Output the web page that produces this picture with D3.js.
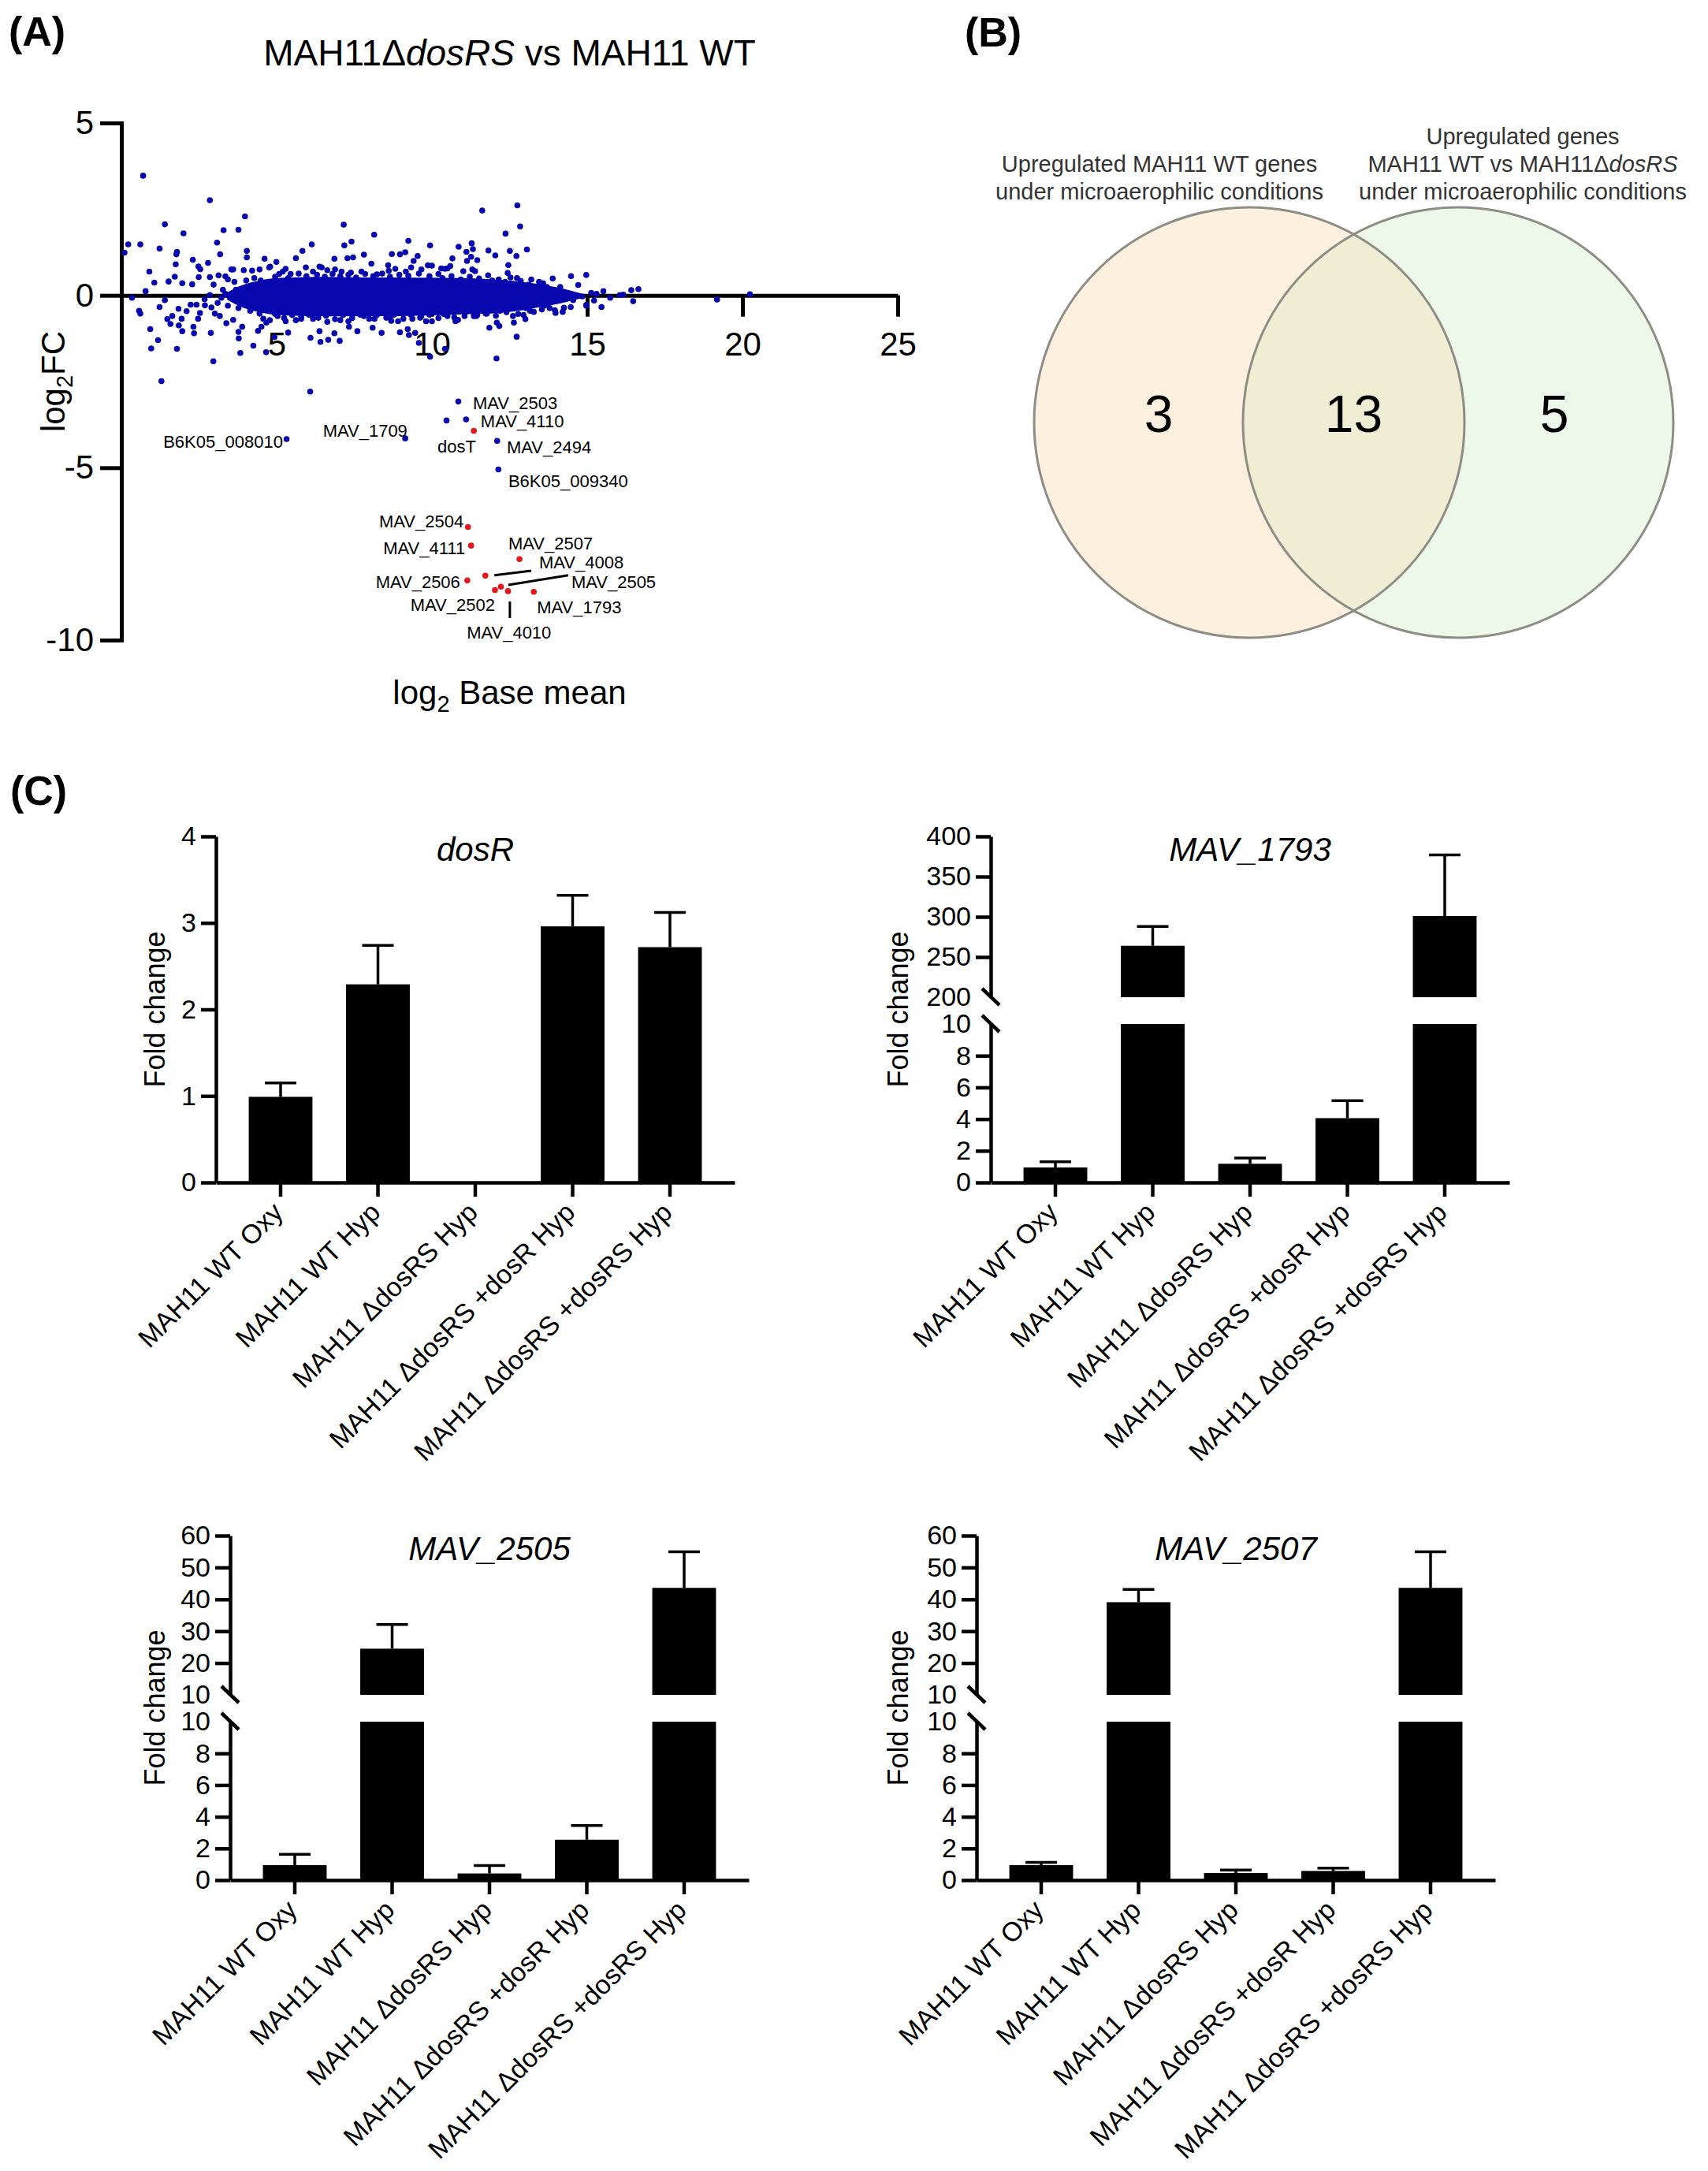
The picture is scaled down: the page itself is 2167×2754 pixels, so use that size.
<!DOCTYPE html>
<html>
<head>
<meta charset="utf-8">
<script src="https://cdn.jsdelivr.net/npm/d3@7"></script>
<style>
  body { margin: 0; background: #fff; }
  svg { display: block; font-family: "Liberation Sans", Arial, Helvetica, sans-serif; }
</style>
</head>
<body>
<svg id="fig" width="2167" height="2754"></svg>
<script>
// ---------- panel A: MA plot (log2 base mean, log2FC) ----------
const maPoints = [
  [0.70,3.47],[2.85,2.76],[3.98,2.29],[1.40,2.06],[2.0,1.80],[3.29,1.89],[3.77,1.90],[7.16,2.05],
  [8.14,1.76],[7.41,1.56],[7.18,1.45],[6.13,1.48],[5.83,1.29],[9.24,1.58],[9.94,1.45],[0.22,1.48],
  [0.61,1.48],[0.1,1.24],[1.23,1.36],[3.08,1.53],[3.18,1.19],[4.04,1.29],[4.04,1.10],[1.79,1.26],
  [1.77,1.19],[1.75,0.90],[2.30,1.03],[2.79,0.94],[0.90,0.69],[1.06,0.37],[1.52,0.40],[1.72,0.54],
  [1.96,0.35],[2.48,0.84],[2.54,0.76],[2.49,0.53],[2.28,0.32],[2.85,0.53],[3.13,0.58],[3.35,0.55],
  [4.61,1.06],[4.79,0.83],[4.99,0.97],[5.62,1.08],[6.86,1.06],[7.28,1.08],[7.46,1.10],[7.81,1.18],
  [8.05,0.92],[8.71,1.20],[8.97,1.19],[9.14,1.25],[9.54,1.14],[9.41,1.00],[9.87,0.87],[8.59,0.87],
  [4.45,0.75],[4.21,0.72],[6.45,0.81],
  [0.34,-0.07],[0.78,0.12],[0.57,-0.45],[0.61,-0.53],[0.93,-0.98],[1.18,-1.30],[0.96,-1.54],[1.29,-2.49],
  [1.79,-1.55],[1.23,-0.34],[1.40,-0.14],[1.48,-0.69],[1.64,-0.60],[1.58,-0.83],[1.85,-0.87],[1.96,-1.04],
  [1.94,-0.68],[1.84,-0.39],[2.10,-0.46],[2.23,-0.27],[2.32,-0.91],[2.34,-1.10],[2.47,-0.68],[2.53,-0.51],
  [2.42,-0.27],[2.69,-0.29],[2.90,-0.35],[2.88,-1.09],[2.96,-1.91],[3.01,-0.53],[3.17,-0.60],[3.38,-0.81],
  [3.60,-0.71],[3.77,-1.06],[3.78,-1.25],[3.83,-1.67],[3.89,-0.91],[4.25,-1.46],[4.40,-1.03],[4.66,-1.65],
  [4.51,-0.91],[4.67,-0.79],[4.93,-1.21],[5.37,-1.08],[6.09,-1.23],[6.08,-2.79],[6.38,-1.04],[6.41,-1.35],
  [6.66,-1.29],[7.03,-1.32],[6.86,-1.10],[7.33,-0.91],[7.60,-1.04],[8.09,-0.94],[8.38,-1.09],[8.69,-0.74],
  [8.97,-1.07],[9.22,-0.98],[9.26,-1.15],[9.46,-1.09],[9.58,-1.38],[9.94,-1.78],[9.81,-0.75],[10.42,-1.55],
  [3.54,0.75],[3.60,0.75],[3.94,0.73],[4.76,0.81],[5.29,0.77],[5.20,0.69],[5.45,0.62],[5.94,0.81],
  [6.17,0.69],[6.38,0.83],[6.63,0.73],[6.88,0.75],[7.09,0.69],[7.39,0.66],[7.73,0.69],[8.23,0.61],
  [8.61,0.71],[8.82,0.77],[9.16,0.69],[9.33,0.81],[9.66,0.75],[10.0,0.86],[10.3,0.78],
  [3.43,0.46],[3.64,0.39],[4.02,0.43],[4.28,0.50],[4.49,0.43],[3.69,0.16],[3.86,0.04],[4.11,0.12],
  [4.36,0.23],[3.60,-0.11],[3.43,-0.30],[3.77,-0.37],[3.94,-0.22],[4.15,-0.45],[4.28,-0.30],[4.45,-0.53],
  [4.57,-0.68],[3.22,-0.07],[3.35,0.04],[3.10,-0.22],[2.97,0.31],[3.27,0.16],[2.85,0.01],[2.68,-0.11],
  [4.78,-0.72],[5.03,-0.60],[5.29,-0.75],[5.62,-0.72],[5.79,-0.60],[6.17,-0.68],[6.63,-0.77],[7.05,-0.72],
  [7.31,-0.75],[7.81,-0.60],[8.15,-0.68],[8.65,-0.66],[8.91,-0.75],[9.37,-0.68],[9.66,-0.60],[10.0,-0.75],
  [4.95,0.54],[5.08,0.62],[5.37,0.50],[5.71,0.63],[5.96,0.56],[6.30,0.60],[6.55,0.54],[6.80,0.62],
  [7.05,0.56],[7.31,0.60],[7.56,0.52],[7.85,0.62],[8.11,0.56],[8.40,0.63],[8.65,0.54],[8.95,0.60],
  [9.24,0.57],[9.58,0.63],[9.92,0.56],[10.21,0.62],
  [4.95,-0.54],[5.24,-0.66],[5.50,-0.57],[5.79,-0.68],[6.04,-0.56],[6.34,-0.65],[6.59,-0.59],[6.88,-0.69],
  [7.14,-0.57],[7.43,-0.66],[7.69,-0.56],[7.98,-0.68],[8.23,-0.57],[8.53,-0.65],[8.78,-0.56],[9.08,-0.68],
  [9.33,-0.57],[9.62,-0.65],[9.92,-0.56],[10.21,-0.66],
  [12.75,2.61],[11.62,2.46],[12.84,2.00],[12.37,1.79],[13.06,1.33],[11.28,1.51],[11.32,1.34],[11.11,1.26],
  [10.86,1.41],[11.82,1.30],[12.04,1.16],[12.51,1.29],[12.72,1.14],[12.46,0.88],[12.44,0.65],[10.66,1.07],
  [11.26,1.12],[11.46,1.02],[11.13,1.00],[11.30,0.75],[10.50,0.78],[12.74,0.50],[13.89,0.49],[14.48,0.56],
  [14.97,0.59],[14.71,0.30],[16.65,0.18],[16.42,0.15],[16.16,0.02],[16.05,0.01],[15.74,-0.07],[15.52,0.12],
  [16.48,-0.17],[15.46,-0.34],[19.18,-0.12],[20.24,0.03],
  [11.85,-0.94],[12.09,-0.79],[12.17,-0.89],[12.64,-0.79],[12.73,-1.20],[12.08,-1.83],[12.95,-0.57],[13.01,-0.69],
  [13.28,-0.48],[10.76,-0.75],[11.05,-0.60],[11.46,-0.57],[13.98,-0.51],[14.25,-0.36],[14.47,-0.34],[14.97,-0.28],
  [10.42,0.77],[10.59,0.85],[11.01,0.70],[11.39,0.70],[11.94,0.43],[12.36,0.39],[13.12,0.31],[13.45,0.39],
  [13.7,0.24],[14.13,0.24],[10.5,-0.6],[10.84,-0.71],[11.35,-0.6],[11.77,-0.53],[12.19,-0.45],[12.61,-0.6],
  [13.03,-0.37],[13.62,-0.30],[13.79,-0.37],[14.21,-0.48],[14.97,-0.30],[15.22,-0.15],[15.3,0.04],[15.13,0.07],
  [14.84,-0.03],[14.55,-0.14],[14.38,0.04],
  [10.34,0.50],[10.63,0.56],[10.93,0.46],[11.22,0.54],[11.52,0.49],[11.81,0.58],[12.15,0.46],[12.53,0.52],
  [12.86,0.42],[13.2,0.46],[13.58,0.35],
  [10.38,-0.54],[10.72,-0.64],[11.05,-0.51],[11.43,-0.60],[11.73,-0.53],[12.06,-0.59],[12.4,-0.49],[12.78,-0.54],
  [13.16,-0.45],[13.54,-0.41],[13.96,-0.43]
];

// dense centre of the cloud, read as its outline
const coreBaseMean = [3.4, 3.9, 4.5, 5.0, 6.0, 7.0, 8.0, 9.0, 10.0, 11.0, 12.0, 12.8, 13.5, 14.2, 14.8];
const coreUpper    = [0.08, 0.30, 0.44, 0.50, 0.53, 0.53, 0.52, 0.52, 0.51, 0.50, 0.46, 0.40, 0.32, 0.20, 0.06];
const coreLower    = [-0.12, -0.35, -0.50, -0.57, -0.60, -0.61, -0.60, -0.60, -0.58, -0.55, -0.52, -0.45, -0.34, -0.22, -0.09];

// named genes (blue = other, red = DosR regulon)
const otherGenes = ["B6K05_008010", "MAV_1709", "MAV_2503", "", "MAV_4110", "MAV_2494", "B6K05_009340"];
const otherBaseMean = [5.32, 9.14, 10.85, 10.47, 11.10, 12.10, 12.14];
const otherLog2FC = [-4.17, -4.15, -3.08, -3.63, -3.60, -4.22, -5.05];

const regulonGenes = ["dosT", "MAV_2504", "MAV_4111", "MAV_2507", "MAV_4008", "MAV_2506",
  "MAV_2505", "MAV_2502", "MAV_4010", "MAV_1793"];
const regulonBaseMean = [11.35, 11.16, 11.26, 12.82, 11.72, 11.14, 12.22, 12.03, 12.45, 13.28];
const regulonLog2FC = [-3.93, -6.72, -7.26, -7.65, -8.13, -8.27, -8.45, -8.55, -8.58, -8.60];

// ---------- panel B: Venn ----------
const vennCounts = [3, 13, 5];

// ---------- panel C: qPCR fold change ----------
const conditions = ["MAH11 WT Oxy", "MAH11 WT Hyp", "MAH11 \u0394dosRS Hyp",
  "MAH11 \u0394dosRS +dosR Hyp", "MAH11 \u0394dosRS +dosRS Hyp"];
const dosRMean = [0.99, 2.29, 0, 2.96, 2.72];
const dosRErr = [0.16, 0.45, 0, 0.36, 0.40];
const mav1793Mean = [0.95, 264, 1.18, 4.06, 301];
const mav1793Err = [0.36, 24, 0.36, 1.1, 76];
const mav2505Mean = [0.95, 24.5, 0.42, 2.55, 43.6];
const mav2505Err = [0.68, 7.6, 0.5, 0.9, 11.3];
const mav2507Mean = [0.95, 39.1, 0.45, 0.58, 43.6];
const mav2507Err = [0.17, 4.0, 0.18, 0.18, 11.3];

const FONT = '"Liberation Sans", Arial, Helvetica, sans-serif';
const BLUE = "#0707ad";
const RED = "#e3161c";

// label placement for the named genes, in data units (x, y, anchor)
const labelPlacement = {
  "B6K05_008010": [5.20, -4.42, "end"],
  "MAV_1709": [9.21, -4.10, "end"],
  "MAV_2503": [11.32, -3.30, "start"],
  "MAV_4110": [11.57, -3.83, "start"],
  "dosT": [10.18, -4.55, "start"],
  "MAV_2494": [12.41, -4.58, "start"],
  "B6K05_009340": [12.46, -5.56, "start"],
  "MAV_2504": [11.02, -6.73, "end"],
  "MAV_4111": [11.07, -7.51, "end"],
  "MAV_2507": [12.46, -7.37, "start"],
  "MAV_4008": [13.45, -7.92, "start"],
  "MAV_2506": [10.91, -8.49, "end"],
  "MAV_2505": [14.49, -8.49, "start"],
  "MAV_2502": [12.03, -9.15, "end"],
  "MAV_4010": [11.12, -9.95, "start"],
  "MAV_1793": [13.38, -9.22, "start"]
};
const leaderLines = [
  [[12.01, -8.12], [13.20, -7.99]],
  [[12.46, -8.40], [14.39, -8.12]],
  [[12.51, -8.88], [12.51, -9.36]]
];

function styleAxis(ax, size, width) {
  ax.attr("font-family", FONT).attr("font-size", size);
  ax.select(".domain").attr("stroke", "#000").attr("stroke-width", width);
  ax.selectAll(".tick line").attr("stroke", "#000").attr("stroke-width", width);
  ax.selectAll(".tick text").attr("fill", "#000");
}

function drawMA(svg) {
  const sx = d3.scaleLinear().domain([0, 25]).range([154, 1139]);
  const sy = d3.scaleLinear().domain([-10, 5]).range([812, 156]);
  const g = svg.append("g");

  const xa = g.append("g")
    .attr("transform", `translate(0, ${sy(0)})`)
    .call(d3.axisBottom(sx).tickValues([5, 10, 15, 20, 25]).tickSize(27).tickSizeOuter(0)
      .tickPadding(20).tickFormat(d => String(d)));
  styleAxis(xa, 42, 5);

  const ya = g.append("g")
    .attr("transform", `translate(${sx(0)}, 0)`)
    .call(d3.axisLeft(sy).tickValues([5, 0, -5, -10]).tickSize(27).tickSizeOuter(0)
      .tickPadding(8).tickFormat(d => String(d)));
  styleAxis(ya, 42, 5);
  ya.select(".domain").attr("stroke-linecap", "square");

  // dense core
  const area = d3.area()
    .x((d, i) => sx(coreBaseMean[i]))
    .y0((d, i) => sy(coreLower[i]))
    .y1((d, i) => sy(coreUpper[i]))
    .curve(d3.curveCatmullRom);
  g.append("path").datum(coreBaseMean).attr("d", area).attr("fill", BLUE);

  g.selectAll(".ma-dot")
    .data(maPoints)
    .enter()
    .append("circle")
    .attr("class", "ma-dot")
    .attr("cx", d => sx(d[0]))
    .attr("cy", d => sy(d[1]))
    .attr("r", 3.8)
    .attr("fill", BLUE);

  otherGenes.forEach((name, i) => {
    g.append("circle").attr("cx", sx(otherBaseMean[i])).attr("cy", sy(otherLog2FC[i]))
      .attr("r", 3.8).attr("fill", BLUE);
  });
  regulonGenes.forEach((name, i) => {
    g.append("circle").attr("cx", sx(regulonBaseMean[i])).attr("cy", sy(regulonLog2FC[i]))
      .attr("r", 3.8).attr("fill", RED);
  });

  Object.keys(labelPlacement).forEach(name => {
    const [lx, ly, anchor] = labelPlacement[name];
    g.append("text")
      .attr("x", sx(lx))
      .attr("y", sy(ly))
      .attr("text-anchor", anchor)
      .attr("font-size", 22)
      .attr("fill", "#000")
      .text(name);
  });

  leaderLines.forEach(seg => {
    g.append("line")
      .attr("x1", sx(seg[0][0])).attr("y1", sy(seg[0][1]))
      .attr("x2", sx(seg[1][0])).attr("y2", sy(seg[1][1]))
      .attr("stroke", "#000").attr("stroke-width", 3);
  });

  // title
  const t = svg.append("text")
    .attr("x", (sx(0) + sx(25)) / 2)
    .attr("y", 83)
    .attr("text-anchor", "middle")
    .attr("font-size", 46);
  t.append("tspan").text("MAH11\u0394");
  t.append("tspan").attr("font-style", "italic").text("dosRS");
  t.append("tspan").text(" vs MAH11 WT");

  // y label
  const yl = svg.append("text")
    .attr("transform", `translate(82, ${(sy(5) + sy(-10)) / 2}) rotate(-90)`)
    .attr("text-anchor", "middle")
    .attr("font-size", 42);
  yl.append("tspan").text("log");
  yl.append("tspan").attr("font-size", 29).attr("dy", 10).text("2");
  yl.append("tspan").attr("dy", -10).text("FC");

  // x label
  const xl = svg.append("text")
    .attr("x", (sx(0) + sx(25)) / 2)
    .attr("y", 893)
    .attr("text-anchor", "middle")
    .attr("font-size", 42);
  xl.append("tspan").text("log");
  xl.append("tspan").attr("font-size", 29).attr("dy", 10).text("2");
  xl.append("tspan").attr("dy", -10).text(" Base mean");
}

function drawVenn(svg) {
  const cy = 536, r = 273, cxL = 1585, cxR = 1850;
  const g = svg.append("g");
  g.append("defs").append("clipPath").attr("id", "clipLeft")
    .append("circle").attr("cx", cxL).attr("cy", cy).attr("r", r);

  g.append("circle").attr("cx", cxL).attr("cy", cy).attr("r", r).attr("fill", "#fdf0df");
  g.append("circle").attr("cx", cxR).attr("cy", cy).attr("r", r).attr("fill", "#edf8ea");
  g.append("circle").attr("cx", cxR).attr("cy", cy).attr("r", r).attr("fill", "#efedd3")
    .attr("clip-path", "url(#clipLeft)");
  [cxL, cxR].forEach(cx => {
    g.append("circle").attr("cx", cx).attr("cy", cy).attr("r", r)
      .attr("fill", "none").attr("stroke", "#8d8d86").attr("stroke-width", 3);
  });

  const countX = [cxL - 115, (cxL + cxR) / 2, cxR + 122];
  vennCounts.forEach((c, i) => {
    g.append("text").attr("x", countX[i]).attr("y", 548)
      .attr("text-anchor", "middle").attr("font-size", 66).attr("fill", "#000").text(c);
  });

  const leftLines = ["Upregulated MAH11 WT genes", "under microaerophilic conditions"];
  leftLines.forEach((s, i) => {
    g.append("text").attr("x", cxL - 114).attr("y", 218 + i * 35)
      .attr("text-anchor", "middle").attr("font-size", 29).attr("fill", "#333").text(s);
  });
  const rx = 1932;
  g.append("text").attr("x", rx).attr("y", 183).attr("text-anchor", "middle")
    .attr("font-size", 29).attr("fill", "#333").text("Upregulated genes");
  const mid = g.append("text").attr("x", rx).attr("y", 218).attr("text-anchor", "middle")
    .attr("font-size", 29).attr("fill", "#333");
  mid.append("tspan").text("MAH11 WT vs MAH11\u0394");
  mid.append("tspan").attr("font-style", "italic").text("dosRS");
  g.append("text").attr("x", rx).attr("y", 253).attr("text-anchor", "middle")
    .attr("font-size", 29).attr("fill", "#333").text("under microaerophilic conditions");
}

function drawBarPanel(svg, p) {
  const g = svg.append("g");
  const x = d3.scaleBand().domain(conditions)
    .range([p.axisX, p.axisX + 658]).paddingInner(0.345).paddingOuter(0.3365);

  const segs = [];
  if (p.upper) {
    segs.push({ scale: d3.scaleLinear().domain(p.lower).range([p.bottom, p.bottom - 201]),
      ticks: p.lowerTicks, noTick: p.lower[1] });
    segs.push({ scale: d3.scaleLinear().domain(p.upper).range([p.bottom - 235, p.top]),
      ticks: p.upperTicks, noTick: p.upper[0] });
  } else {
    segs.push({ scale: d3.scaleLinear().domain(p.lower).range([p.bottom, p.top]),
      ticks: p.lowerTicks, noTick: null });
  }

  segs.forEach(s => {
    const ax = g.append("g")
      .attr("transform", `translate(${p.axisX}, 0)`)
      .call(d3.axisLeft(s.scale).tickValues(s.ticks).tickSize(19).tickSizeOuter(0)
        .tickPadding(6).tickFormat(d3.format("d")));
    styleAxis(ax, 34, 4.5);
    ax.selectAll(".tick line").filter(d => d === s.noTick).remove();
  });

  if (p.upper) {
    [segs[0].scale.range()[1], segs[1].scale.range()[0]].forEach(yb => {
      g.append("line")
        .attr("x1", p.axisX - 11).attr("y1", yb - 11)
        .attr("x2", p.axisX + 11).attr("y2", yb + 10)
        .attr("stroke", "#000").attr("stroke-width", 4.5);
    });
  }

  // bars, split over the segments
  p.means.forEach((m, i) => {
    segs.forEach(s => {
      const [d0, d1] = s.scale.domain();
      if (m <= d0) return;
      const yTop = s.scale(Math.min(m, d1));
      g.append("rect")
        .attr("x", x(conditions[i]))
        .attr("y", yTop)
        .attr("width", x.bandwidth())
        .attr("height", s.scale(d0) - yTop)
        .attr("fill", "#000");
    });
    const e = p.errs[i];
    if (e > 0) {
      const s = segs.filter(sg => m >= sg.scale.domain()[0]).pop();
      const cx = x(conditions[i]) + x.bandwidth() / 2;
      g.append("line").attr("x1", cx).attr("x2", cx)
        .attr("y1", s.scale(m)).attr("y2", s.scale(m + e))
        .attr("stroke", "#000").attr("stroke-width", 3.5);
      g.append("line").attr("x1", cx - 20).attr("x2", cx + 20)
        .attr("y1", s.scale(m + e)).attr("y2", s.scale(m + e))
        .attr("stroke", "#000").attr("stroke-width", 3.5);
    }
  });

  const xa = g.append("g")
    .attr("transform", `translate(0, ${p.bottom})`)
    .call(d3.axisBottom(x).tickSize(18).tickSizeOuter(0));
  styleAxis(xa, 34, 4.5);
  xa.selectAll(".tick text")
    .attr("y", 0)
    .attr("dy", 0)
    .attr("text-anchor", "end")
    .attr("transform", "translate(5, 40) rotate(-45)");

  g.append("text")
    .attr("x", x(conditions[2]) + x.bandwidth() / 2)
    .attr("y", p.top + 31)
    .attr("text-anchor", "middle")
    .attr("font-size", 42)
    .attr("font-style", "italic")
    .text(p.title);

  g.append("text")
    .attr("transform", `translate(${p.labelX}, ${(p.top + p.bottom) / 2}) rotate(-90)`)
    .attr("text-anchor", "middle")
    .attr("font-size", 36)
    .text("Fold change");
}

const svg = d3.select("svg#fig");
svg.append("rect").attr("width", 2167).attr("height", 2754).attr("fill", "#fff");

[["(A)", 11, 58], ["(B)", 1224, 59], ["(C)", 13, 1021]].forEach(d => {
  svg.append("text").attr("x", d[1]).attr("y", d[2])
    .attr("font-size", 52).attr("font-weight", "bold").text(d[0]);
});

drawMA(svg);
drawVenn(svg);

drawBarPanel(svg, { title: "dosR", axisX: 274, top: 1061, bottom: 1500, labelX: 209,
  lower: [0, 4], lowerTicks: [0, 1, 2, 3, 4], means: dosRMean, errs: dosRErr });
drawBarPanel(svg, { title: "MAV_1793", axisX: 1257, top: 1061, bottom: 1500, labelX: 1152,
  lower: [0, 10], lowerTicks: [0, 2, 4, 6, 8, 10], upper: [200, 400],
  upperTicks: [200, 250, 300, 350, 400], means: mav1793Mean, errs: mav1793Err });
drawBarPanel(svg, { title: "MAV_2505", axisX: 292, top: 1948, bottom: 2385, labelX: 209,
  lower: [0, 10], lowerTicks: [0, 2, 4, 6, 8, 10], upper: [10, 60],
  upperTicks: [10, 20, 30, 40, 50, 60], means: mav2505Mean, errs: mav2505Err });
drawBarPanel(svg, { title: "MAV_2507", axisX: 1239, top: 1948, bottom: 2385, labelX: 1152,
  lower: [0, 10], lowerTicks: [0, 2, 4, 6, 8, 10], upper: [10, 60],
  upperTicks: [10, 20, 30, 40, 50, 60], means: mav2507Mean, errs: mav2507Err });
</script>
</body>
</html>
